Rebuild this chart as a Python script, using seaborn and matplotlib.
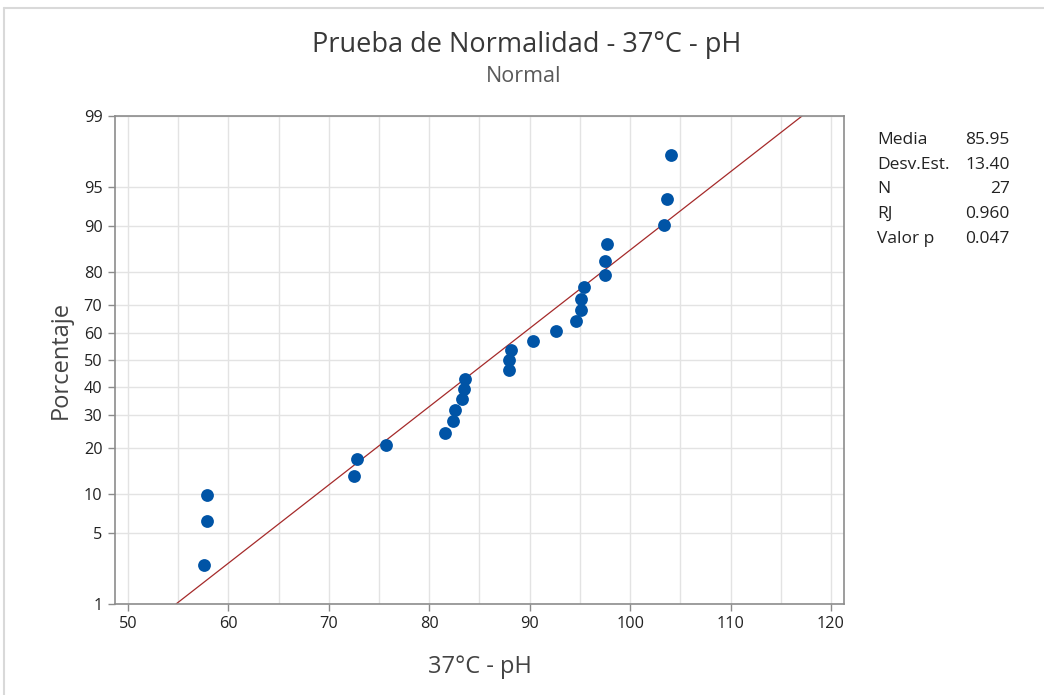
import numpy as np
import pandas as pd
import matplotlib
matplotlib.use("Agg")
import matplotlib.pyplot as plt
import seaborn as sns
from statistics import NormalDist
from matplotlib.ticker import FixedLocator, MultipleLocator

# ---- data ----
ph_values = [57.55, 57.88, 57.88, 72.46, 72.80, 75.69, 81.61, 82.33, 82.53,
             83.27, 83.43, 83.60, 87.92, 87.92, 88.09, 90.28, 92.57, 94.57,
             95.07, 95.10, 95.43, 97.46, 97.46, 97.66, 103.37, 103.71, 104.11]
percent = [2.55, 6.20, 9.85, 13.50, 17.15, 20.80, 24.45, 28.10, 31.75,
           35.40, 39.05, 42.70, 46.35, 50.00, 53.65, 57.30, 60.95, 64.60,
           68.25, 71.90, 75.55, 79.20, 82.85, 86.50, 90.15, 93.80, 97.45]
y_ticks = [1, 5, 10, 20, 30, 40, 50, 60, 70, 80, 90, 95, 99]
x_ticks = [50, 60, 70, 80, 90, 100, 110, 120]
stat_names = ["Media", "Desv.Est.", "N", "RJ", "Valor p"]
stat_values = ["85.95", "13.40", "27", "0.960", "0.047"]
fit_mean = 85.95
fit_sd = 13.40
line_percent = [1, 99]

df = pd.DataFrame({"ph": ph_values, "pct": percent})

nd = NormalDist()
_inv_cdf = np.vectorize(nd.inv_cdf, otypes=[float])
_cdf = np.vectorize(nd.cdf, otypes=[float])

def fwd(p):
    p = np.clip(np.asarray(p, dtype=float), 1e-6, 100 - 1e-6) / 100.0
    return _inv_cdf(p)

def inv(z):
    z = np.asarray(z, dtype=float)
    return _cdf(z) * 100.0

sns.set_style("white")
plt.rcParams["font.family"] = ["Open Sans", "DejaVu Sans"]

fig = plt.figure(figsize=(10.44, 6.95), dpi=100)
ax = fig.add_axes([115/1044, 1 - 604/695, (844-115)/1044, (604-116)/695])

line_df = pd.DataFrame({
    "pct": line_percent,
    "ph": [fit_mean + fit_sd * nd.inv_cdf(p / 100) for p in line_percent],
})

ax.set_yscale("function", functions=(fwd, inv))
sns.lineplot(data=line_df, x="ph", y="pct", ax=ax, color="#A52A2A",
             linewidth=0.9, sort=False, zorder=2)
sns.scatterplot(data=df, x="ph", y="pct", ax=ax, color="#0054A6", s=85,
                edgecolor="#0054A6", linewidth=0, zorder=3)

ax.set_xlim(48.7, 121.3)
ax.set_ylim(1, 99)
ax.yaxis.set_major_locator(FixedLocator(y_ticks))
ax.yaxis.set_minor_locator(FixedLocator([]))
ax.set_yticklabels([str(t) for t in y_ticks])
ax.xaxis.set_major_locator(FixedLocator(x_ticks))
ax.xaxis.set_minor_locator(MultipleLocator(5))

ax.grid(True, which="both", color="#E3E3E3", linewidth=1.0, zorder=0)
ax.set_axisbelow(True)
for s in ax.spines.values():
    s.set_color("#8C8C8C")
    s.set_linewidth(1.2)
ax.tick_params(axis="both", which="major", direction="out", length=5,
               width=1, color="#8C8C8C", labelsize=11.7, labelcolor="#222222",
               left=True, bottom=True, pad=4)
ax.tick_params(axis="x", which="minor", length=0)

ax.set_xlabel("37°C - pH", fontsize=17, color="#444444", labelpad=16)
ax.set_ylabel("Porcentaje", fontsize=17, color="#444444", labelpad=8)

fig.text(527/1044, 1 - 45/695, "Prueba de Normalidad - 37°C - pH",
         ha="center", va="center", fontsize=19.5, color="#383838")
fig.text(524/1044, 1 - 77/695, "Normal", ha="center", va="center",
         fontsize=15.5, color="#5A5A5A")

for i, (n, v) in enumerate(zip(stat_names, stat_values)):
    yy = 1 - (140 + i * 24.7) / 695
    fig.text(877/1044, yy, n, ha="left", va="center", fontsize=12.5,
             color="#222222")
    fig.text(1010/1044, yy, v, ha="right", va="center", fontsize=12.5,
             color="#222222")

# light frame of the graph window
fig.add_artist(plt.Line2D([4/1044, 4/1044], [0, 1 - 8/695],
                          transform=fig.transFigure, color="#D9D9D9", lw=1.5))
fig.add_artist(plt.Line2D([4/1044, 1], [1 - 8/695, 1 - 8/695],
                          transform=fig.transFigure, color="#D9D9D9", lw=1.5))

fig.savefig("out.png", dpi=100)
